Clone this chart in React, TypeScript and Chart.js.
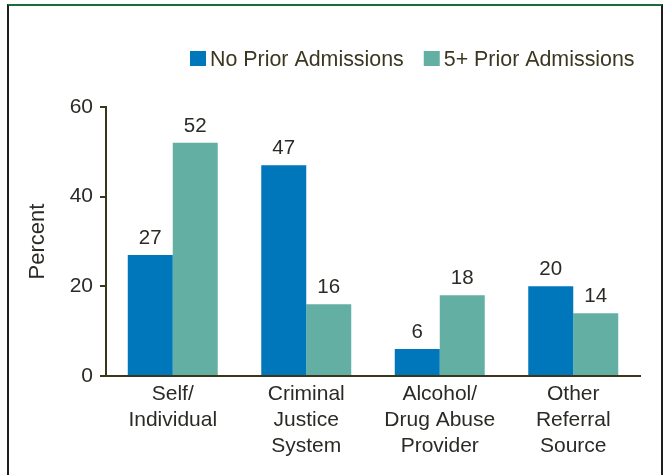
import React, { useEffect, useRef } from "react";
import { Chart, registerables } from "chart.js";

Chart.register(...registerables);

const categories: string[][] = [
  ["Self/", "Individual"],
  ["Criminal", "Justice", "System"],
  ["Alcohol/", "Drug Abuse", "Provider"],
  ["Other", "Referral", "Source"],
];
const seriesNames = ["No Prior Admissions", "5+ Prior Admissions"];
const noPriorAdmissions = [27, 47, 6, 20];
const fivePlusPriorAdmissions = [52, 16, 18, 14];
const yMin = 0;
const yMax = 60;
const yStep = 20;
const yTitle = "Percent";

const BLUE = "#0077bb";
const TEAL = "#63afa3";
const AXIS = "#3a361c";
const TEXT = "#2a2a26";
const LEGEND_TEXT = "#3b3720";
const FONT = '"Liberation Sans", Arial, Helvetica, sans-serif';

const valueLabels = {
  id: "valueLabels",
  afterDatasetsDraw(chart: any) {
    const ctx = chart.ctx;
    ctx.save();
    ctx.font = `20.5px ${FONT}`;
    ctx.fillStyle = TEXT;
    ctx.textAlign = "center";
    ctx.textBaseline = "alphabetic";
    chart.data.datasets.forEach((ds: any, i: number) => {
      const meta = chart.getDatasetMeta(i);
      meta.data.forEach((bar: any, j: number) => {
        ctx.fillText(String(ds.data[j]), bar.x, bar.y - 11);
      });
    });
    ctx.restore();
  },
};

const customLegend = {
  id: "customLegend",
  afterDraw(chart: any) {
    const ctx = chart.ctx;
    ctx.save();
    ctx.font = `21.4px ${FONT}`;
    ctx.textAlign = "left";
    ctx.textBaseline = "alphabetic";
    let x = 190;
    chart.data.datasets.forEach((ds: any) => {
      ctx.fillStyle = ds.backgroundColor;
      ctx.fillRect(x, 51, 16, 15);
      ctx.fillStyle = LEGEND_TEXT;
      ctx.fillText(ds.label, x + 20, 66);
      x += 20 + ctx.measureText(ds.label).width + 20;
    });
    ctx.restore();
  },
};

export default function App() {
  const ref = useRef<HTMLCanvasElement | null>(null);

  useEffect(() => {
    if (!ref.current) return;
    const chart = new Chart(ref.current, {
      type: "bar",
      data: {
        labels: categories,
        datasets: [
          {
            label: seriesNames[0],
            data: noPriorAdmissions,
            backgroundColor: BLUE,
            borderWidth: 0,
          },
          {
            label: seriesNames[1],
            data: fivePlusPriorAdmissions,
            backgroundColor: TEAL,
            borderWidth: 0,
          },
        ],
      },
      options: {
        responsive: false,
        animation: false,
        devicePixelRatio: 1,
        layout: { padding: { top: 107, left: 8, right: 23, bottom: 0 } },
        datasets: {
          bar: { categoryPercentage: 0.674, barPercentage: 1 },
        },
        plugins: {
          legend: { display: false },
          tooltip: { enabled: false },
          title: { display: false },
        },
        scales: {
          x: {
            grid: { display: false, drawTicks: false },
            border: { display: true, color: AXIS, width: 2 },
            ticks: {
              color: TEXT,
              font: { family: FONT, size: 21, lineHeight: 1.24 },
              padding: 5,
              maxRotation: 0,
              autoSkip: false,
            },
            afterFit(scale: any) {
              scale.height = 99;
            },
          },
          y: {
            min: yMin,
            max: yMax,
            grid: {
              display: true,
              drawOnChartArea: false,
              drawTicks: true,
              tickLength: 6,
              color: AXIS,
              lineWidth: 2,
            },
            border: { display: true, color: AXIS, width: 2 },
            ticks: {
              stepSize: yStep,
              color: TEXT,
              font: { family: FONT, size: 21 },
              padding: 7,
            },
            title: {
              display: true,
              text: yTitle,
              color: TEXT,
              font: { family: FONT, size: 22 },
              padding: { top: 17, bottom: 0 },
            },
            afterFit(scale: any) {
              scale.width = 98;
            },
          },
        },
      },
      plugins: [valueLabels, customLegend],
    });
    return () => chart.destroy();
  }, []);

  return (
    <div
      style={{
        position: "absolute",
        left: 0,
        top: 0,
        width: 663,
        height: 475,
        overflow: "hidden",
        background: "#ffffff",
      }}
    >
      <div
        style={{
          position: "absolute",
          left: 7,
          top: 4,
          width: 656,
          height: 471,
          boxSizing: "border-box",
          borderTop: "2px solid #1b6b3c",
          borderLeft: "2px solid #1e1e1e",
          borderRight: "2px solid #1e1e1e",
        }}
      />
      <canvas
        ref={ref}
        width={663}
        height={475}
        style={{ position: "absolute", left: 0, top: 0, width: 663, height: 475 }}
      />
    </div>
  );
}
